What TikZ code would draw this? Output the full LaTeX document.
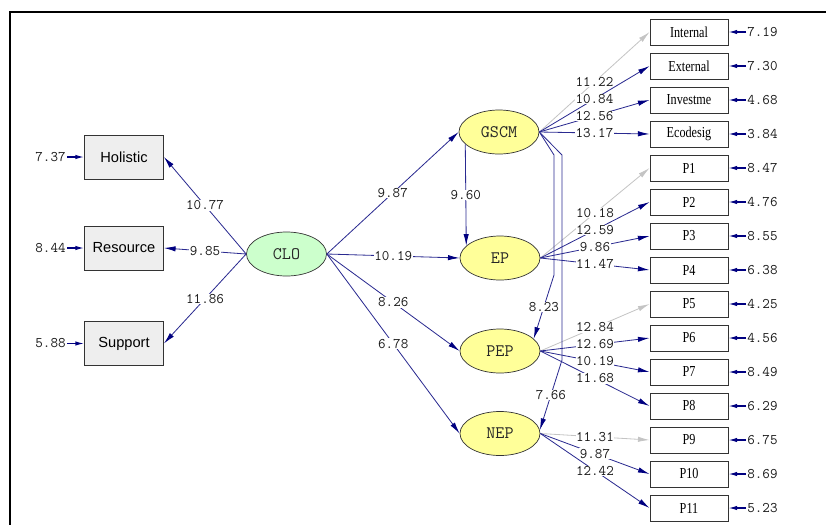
\documentclass[tikz,border=0pt]{standalone}
\usepackage{fontspec}
\newfontfamily\arialfont{Liberation Sans}
\newfontfamily\timesfont{Liberation Serif}
\usetikzlibrary{arrows.meta,shapes.geometric}
\definecolor{lnavy}{HTML}{2A2A90}
\definecolor{dnavy}{HTML}{000080}
\definecolor{lgrey}{HTML}{C4C4C4}
\definecolor{bgrey}{HTML}{EEEEEE}
\definecolor{pgreen}{HTML}{CCFFCC}
\definecolor{pyellow}{HTML}{FFFF99}
\newcommand{\nrw}[1]{\scalebox{0.8}[1]{#1}}
\tikzset{
  obs/.style={draw=black!80,line width=0.7pt,fill=bgrey,minimum width=2.37cm,minimum height=1.32cm,
              inner sep=0pt,font=\arialfont\fontsize{12.5}{14}\selectfont},
  ind/.style={draw=black!80,line width=0.7pt,fill=white,minimum width=2.34cm,minimum height=0.78cm,
              inner sep=0pt,font=\timesfont\fontsize{13}{14}\selectfont},
  lat/.style={ellipse,draw=black!80,line width=0.6pt,fill=pyellow,minimum width=2.4cm,minimum height=1.32cm,
              inner sep=0pt,font=\ttfamily\fontsize{15}{16}\selectfont,text=black!85},
  lnk/.style={-{Latex[length=3.5mm,width=1.6mm,color=dnavy]},line width=0.7pt,lnavy},
  fixd/.style={-{Latex[length=3.5mm,width=1.6mm]},line width=0.7pt,lgrey},
  earr/.style={-{Latex[length=2.6mm,width=1.3mm]},line width=1pt,dnavy},
  lbl/.style={font=\ttfamily\fontsize{12.5}{14}\selectfont,text=black!90,fill=white,inner sep=0.5pt},
  err/.style={font=\ttfamily\fontsize{12.5}{14}\selectfont,text=black!90,inner sep=1pt},
}
\begin{document}
\begin{tikzpicture}[x=0.03cm,y=-0.03cm]
\useasboundingbox (0,0) rectangle (826,525);
% frame
\draw[line width=1.3pt] (10,525) -- (10,12) -- (826,12);
% latent variables
\node[lat,fill=pgreen] (CLO) at (286.5,254) {CLO};
\node[lat] (GSCM) at (499,132) {GSCM};
\node[lat] (EP) at (500,258) {EP};
\node[lat] (PEP) at (500,351) {PEP};
\node[lat] (NEP) at (500,433.5) {NEP};
% CLO indicators
\foreach \nm/\yy/\ev in {Holistic/157/7.37,Resource/248/8.44,Support/343.5/5.88}{
  \node[obs] (\nm) at (124,\yy) {\nm};
  \node[err,anchor=east] (e\nm) at (67,\yy) {\ev};
  \draw[earr] (e\nm) -- (\nm);
}
\foreach \nm/\val in {Holistic/10.77,Resource/9.85,Support/11.86}
  \draw[lnk] (CLO.west) -- node[lbl]{\val} (\nm.east);
% right indicators
\foreach \nm/\yy/\ev in {Internal/32/7.19,External/66/7.30,Investme/100/4.68,Ecodesig/134/3.84,
    P1/168/8.47,P2/202/4.76,P3/236/8.55,P4/270/6.38,P5/304/4.25,P6/338/4.56,P7/372/8.49,
    P8/406/6.29,P9/440/6.75,P10/474/8.69,P11/508/5.23}{
  \node[ind] (\nm) at (689,\yy) {\nrw{\nm}};
  \node[err,anchor=west] (e\nm) at (746,\yy) {\ev};
  \draw[earr] (e\nm) -- (\nm);
}
\foreach \lv/\nm/\val/\sty in {GSCM/Internal/11.22/fixd,GSCM/External/10.84/lnk,GSCM/Investme/12.56/lnk,
    GSCM/Ecodesig/13.17/lnk,EP/P1/10.18/fixd,EP/P2/12.59/lnk,EP/P3/9.86/lnk,EP/P4/11.47/lnk,
    PEP/P5/12.84/fixd,PEP/P6/12.69/lnk,PEP/P7/10.19/lnk,PEP/P8/11.68/lnk,
    NEP/P9/11.31/fixd,NEP/P10/9.87/lnk,NEP/P11/12.42/lnk}
  \draw[\sty] (\lv.east) -- node[lbl]{\val} (\nm.west);
% structural paths
\foreach \lv/\val in {GSCM/9.87,EP/10.19,PEP/8.26,NEP/6.78}
  \draw[lnk] (CLO.east) -- node[lbl]{\val} (\lv.west);
\draw[lnk] (GSCM.200) -- node[lbl]{9.60} (EP.160);
\coordinate (g1) at (554,155);
\coordinate (g2) at (554,275);
\coordinate (g3) at (562,155);
\coordinate (g4) at (562,360);
\draw[lnk] (GSCM.east) -- (g1) -- (g2) -- node[lbl]{8.23} (PEP.20);
\draw[lnk] (GSCM.east) -- (g3) -- (g4) -- node[lbl]{7.66} (NEP.5);
\end{tikzpicture}
\end{document}
